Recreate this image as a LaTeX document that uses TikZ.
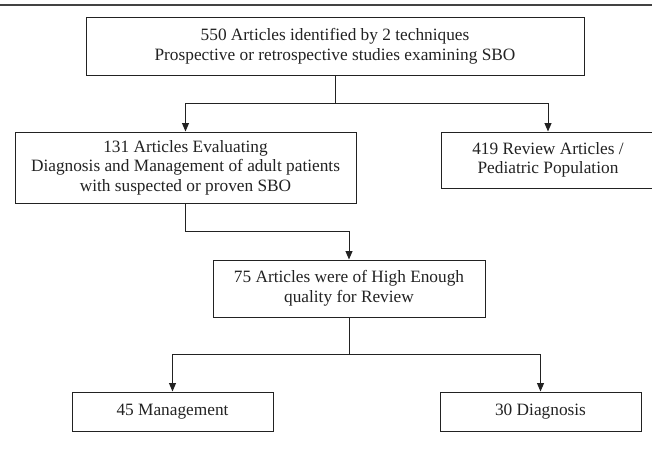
\documentclass[tikz,border=0pt]{standalone}
\usepackage{fontspec}
\setmainfont{Liberation Serif}
\usetikzlibrary{arrows.meta}
\definecolor{ink}{HTML}{222222}
\begin{document}
\begin{tikzpicture}[x=1pt,y=-1pt,
  box/.style={draw=ink,line width=1pt,rectangle,inner sep=0pt,align=center,
    font=\fontsize{17.3}{19.5}\selectfont,text=ink},
  conn/.style={draw=ink,line width=1pt},
  arr/.style={conn,-{Triangle[length=8.5pt,width=7pt]}}]
\useasboundingbox (0,0) rectangle (652,460);
\clip (0,0) rectangle (652,460);
\draw[line width=2pt,draw=ink!85] (0,5) -- (652,5);
\node[box,minimum width=498pt,minimum height=57pt] (b1) at (335,46.5)
  {550 Articles identified by 2 techniques\\Prospective or retrospective studies examining SBO};
\node[box,minimum width=341pt,minimum height=71pt] (b2) at (185.5,167.5)
  {131 Articles Evaluating\\Diagnosis and Management of adult patients\\with suspected or proven SBO};
\node[box,minimum width=214pt,minimum height=56pt] (b3) at (548,160)
  {419 Review Articles /\\Pediatric Population};
\node[box,minimum width=272pt,minimum height=57pt] (b4) at (349,288.5)
  {75 Articles were of High Enough\\quality for Review};
\node[box,minimum width=201pt,minimum height=39pt] (b5) at (172.5,411.5)
  {45 Management};
\node[box,minimum width=201pt,minimum height=39pt] (b6) at (540.5,411.5)
  {30 Diagnosis};
\coordinate (j1) at (335,103);
\coordinate (j2) at (349,231);
\coordinate (j3) at (349,354);
\draw[conn] (b1.south) -- (j1);
\draw[arr] (j1) -| (b2.north);
\draw[arr] (j1) -| (b3.north);
\draw[arr] (b2.south) |- (j2) -- (b4.north);
\draw[conn] (b4.south) -- (j3);
\draw[arr] (j3) -| (b5.north);
\draw[arr] (j3) -| (b6.north);
\end{tikzpicture}
\end{document}
